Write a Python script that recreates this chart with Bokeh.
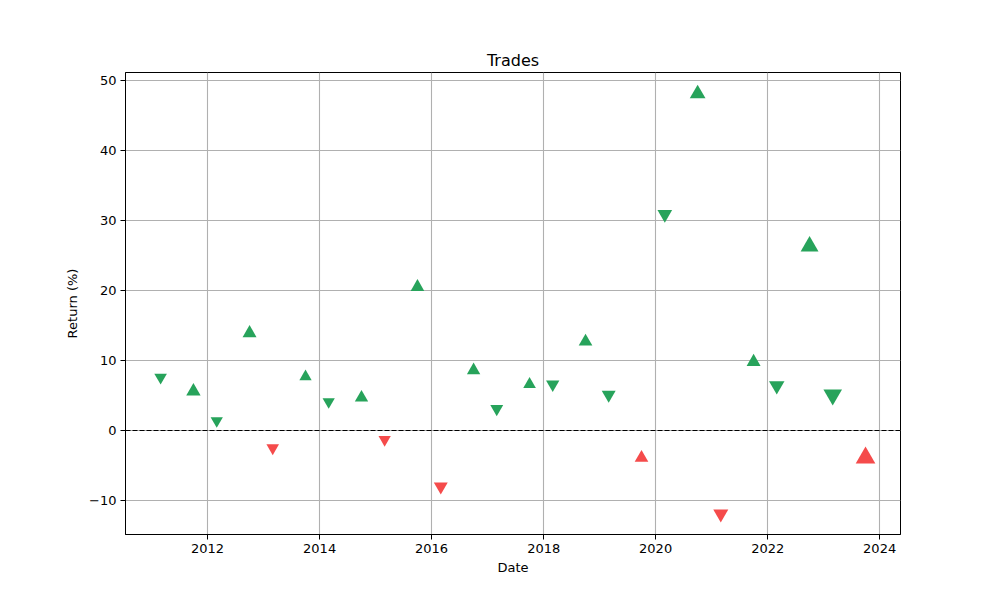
from datetime import datetime, timezone
from bokeh.plotting import figure
from bokeh.models import Range1d, Span, DatetimeTickFormatter, FixedTicker, ColumnDataSource
from bokeh.embed import file_html
from bokeh.resources import INLINE

# ---- data ----
trade_dates = ["2011-03-01", "2011-10-01", "2012-03-01", "2012-10-01", "2013-03-01", "2013-10-01",
               "2014-03-01", "2014-10-01", "2015-03-01", "2015-10-01", "2016-03-01", "2016-10-01",
               "2017-03-01", "2017-10-01", "2018-03-01", "2018-10-01", "2019-03-01", "2019-10-01",
               "2020-03-01", "2020-10-01", "2021-03-01", "2021-10-01", "2022-03-01", "2022-10-01",
               "2023-03-01", "2023-10-01"]
returns = [7.6, 5.6, 1.4, 13.9, -2.5, 7.7, 4.1, 4.7, -1.3, 20.5, -8.0, 8.6, 3.1, 6.6, 6.6, 12.7,
           5.1, -3.9, 30.9, 48.1, -11.9, 9.8, 6.4, 26.3, 5.1, -3.9]
direction = ["short", "long", "short", "long", "short", "long", "short", "long", "short", "long",
             "short", "long", "short", "long", "short", "long", "short", "long", "short", "long",
             "short", "long", "short", "long", "short", "long"]
trade_size = [12, 13.7, 11.7, 13.3, 12, 11.7, 11.7, 12.7, 11.7, 13, 13.3, 12.7, 12.3, 12, 12.7, 13,
              13.3, 13, 14, 15, 14.3, 13.3, 14.7, 17, 17.7, 18.7]
year_ticks = [2012, 2014, 2016, 2018, 2020, 2022, 2024]
y_ticks = [-10, 0, 10, 20, 30, 40, 50]

GREEN = "#27a35b"
RED = "#f54b4b"
FONT = "DejaVu Sans"


def ms(dt):
    return dt.replace(tzinfo=timezone.utc).timestamp() * 1000.0


xs = [datetime.strptime(d, "%Y-%m-%d") for d in trade_dates]
colors = [GREEN if r >= 0 else RED for r in returns]
markers = ["triangle" if d == "long" else "inverted_triangle" for d in direction]
sizes = [s * 1.05 for s in trade_size]

src = ColumnDataSource(dict(x=xs, y=returns, color=colors, marker=markers, size=sizes))

p = figure(width=1000, height=600, output_backend="svg", toolbar_location=None,
           x_axis_type="datetime",
           x_range=Range1d(datetime(2010, 7, 15), datetime(2024, 5, 16)),
           y_range=Range1d(-14.86, 51.14),
           min_border_left=125, min_border_right=100, min_border_top=72, min_border_bottom=66)

p.title.text = "Trades"
p.title.text_font = FONT
p.title.text_font_size = "16px"
p.title.text_font_style = "normal"
p.title.text_color = "black"
p.title.align = "center"
p.title.offset = 0
p.title.standoff = 6

p.outline_line_color = "black"
p.outline_line_width = 1
p.outline_line_alpha = 1

for grid in (p.xgrid, p.ygrid):
    grid.grid_line_color = "#b0b0b0"
    grid.grid_line_width = 1.1

p.xaxis.ticker = FixedTicker(ticks=[ms(datetime(y, 1, 1)) for y in year_ticks])
p.xaxis.formatter = DatetimeTickFormatter(years="%Y", months="%Y", days="%Y")
p.yaxis.ticker = FixedTicker(ticks=y_ticks)
p.xgrid.ticker = p.xaxis.ticker
p.ygrid.ticker = p.yaxis.ticker

for ax in (p.xaxis, p.yaxis):
    ax.axis_line_color = "black"
    ax.major_tick_line_color = "black"
    ax.major_tick_out = 5
    ax.major_tick_in = 0
    ax.minor_tick_line_color = None
    ax.major_label_text_font = FONT
    ax.major_label_text_font_size = "13px"
    ax.major_label_text_color = "black"
    ax.axis_label_text_font = FONT
    ax.axis_label_text_font_size = "13px"
    ax.axis_label_text_font_style = "normal"
    ax.axis_label_text_color = "black"
    ax.major_label_standoff = 4

p.xaxis.axis_label = "Date"
p.yaxis.axis_label = "Return (%)"
p.xaxis.axis_label_standoff = 4
p.yaxis.axis_label_standoff = 6

p.add_layout(Span(location=0, dimension="width", line_color="black", line_width=1.2,
                  line_dash="5 2"))

p.scatter(x="x", y="y", marker="marker", size="size", fill_color="color", line_color=None,
          source=src)

open("out.html", "w").write(file_html(p, INLINE))
